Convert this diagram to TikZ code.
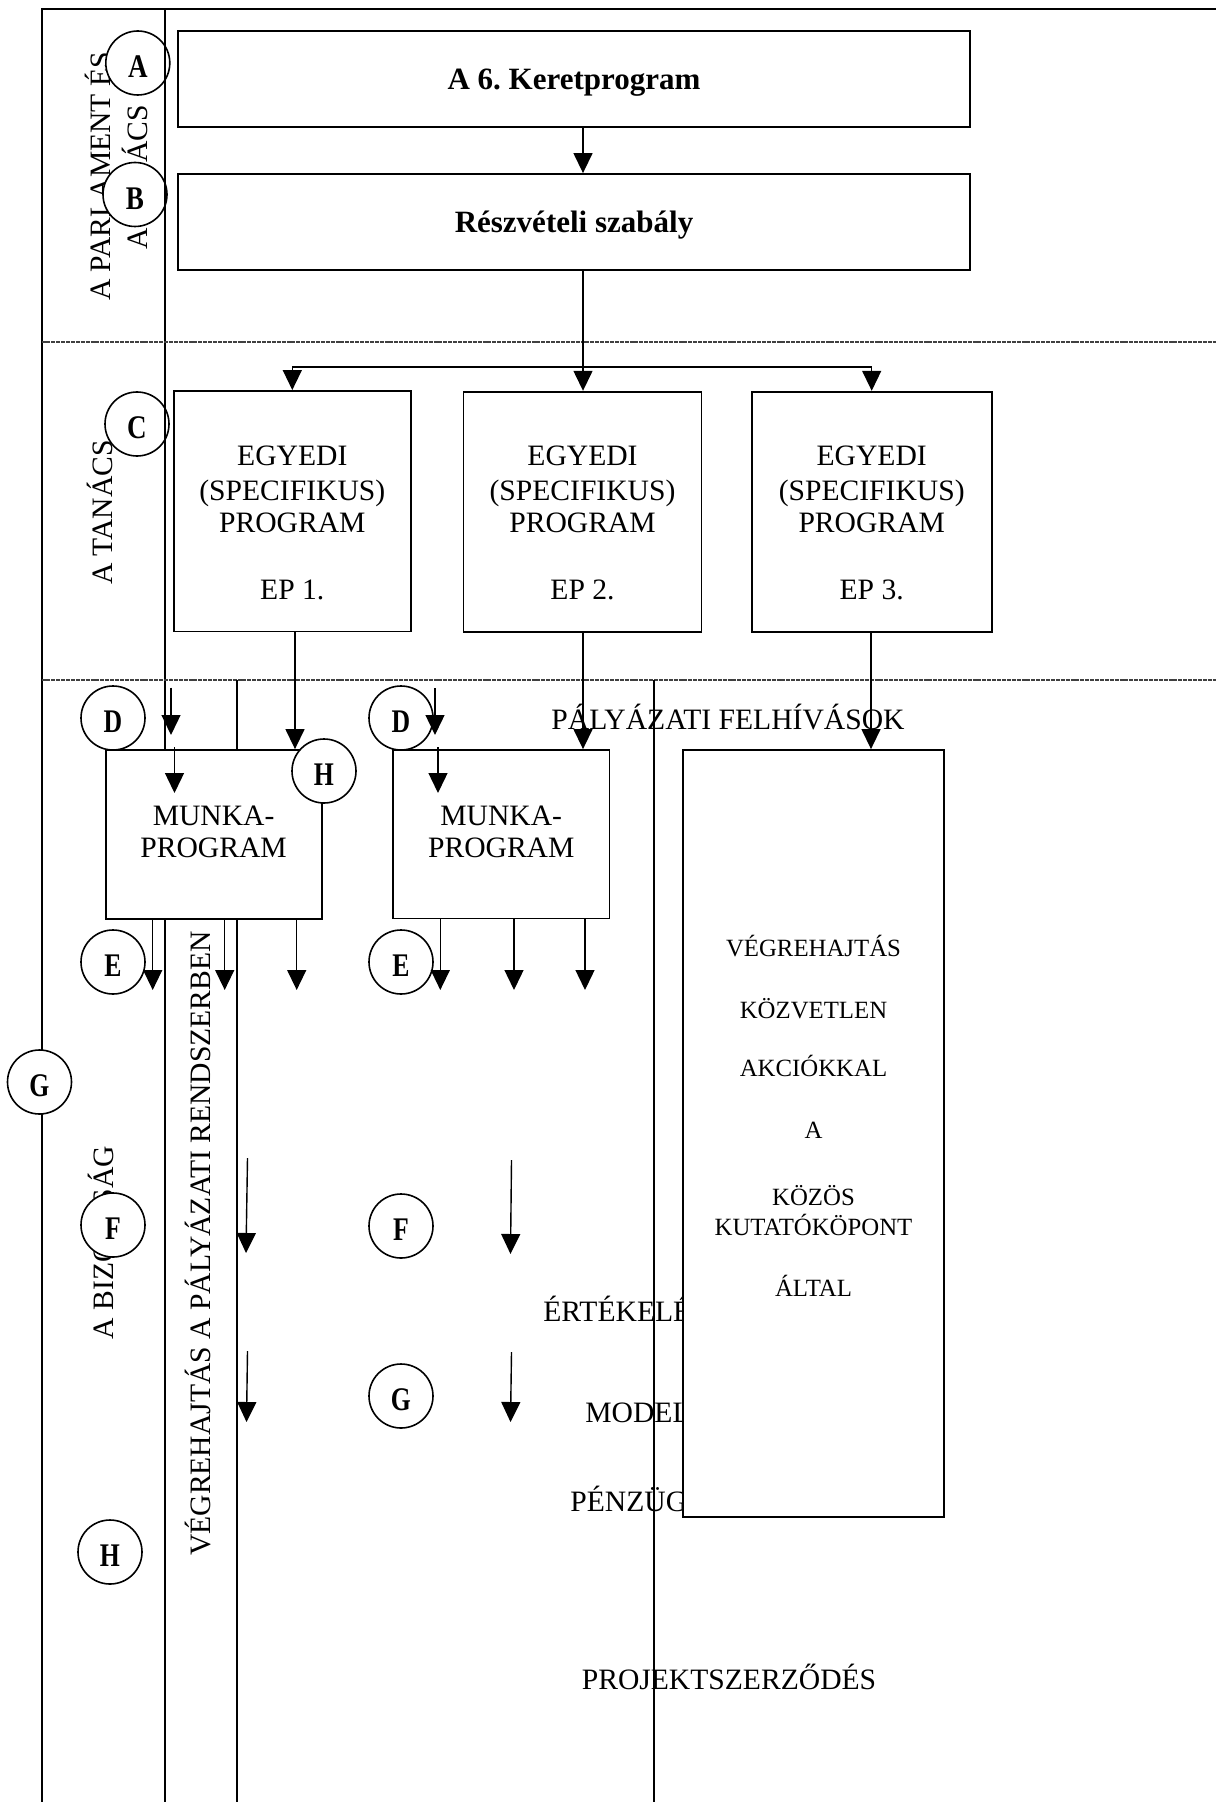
\documentclass[tikz,border=0pt]{standalone}
\usepackage{fontspec}
\setmainfont{Liberation Serif}
\usepackage{graphicx}
\usetikzlibrary{arrows.meta}
\frenchspacing
\begin{document}
\begin{tikzpicture}[x=0.5pt,y=-0.5pt,
  basetxt/.style={inner sep=0pt, text depth=0pt},
  txt/.style={basetxt, font=\fontsize{14.8pt}{17.5pt}\selectfont, text height=9.7pt},
  stxt/.style={basetxt, font=\fontsize{12.4pt}{15pt}\selectfont, text height=8.1pt},
  btxt/.style={font=\bfseries\fontsize{15.5pt}{18pt}\selectfont, text height=10.2pt, text depth=0pt},
  box/.style={draw, line width=0.9pt, fill=white, inner sep=0pt},
  circ/.style={circle, draw, fill=white, line width=0.8pt, minimum size=32pt, inner sep=0pt},
  clet/.style={basetxt, font=\bfseries\fontsize{16.5pt}{18pt}\selectfont, text height=10.8pt},
  arr/.style={-{Triangle[width=9.5pt,length=10pt]}, line width=0.7pt},
  conn/.style={line width=0.7pt},
  frameln/.style={line width=1pt},
  colln/.style={line width=0.8pt},
  sepln/.style={line width=0.85pt, black!75, dash pattern=on 2pt off 0.45pt},
]
\useasboundingbox (0,0) rectangle (1216,1802);

% ---- texts that are partly covered ----
\node[txt, rotate=90] (tPar1) at (101,176.5) {A PARLAMENT ÉS};
\node[txt, rotate=90] (tPar2) at (137.5,177.5) {A TANÁCS};
\node[txt, rotate=90] (tTan) at (103,512.5) {A TANÁCS};
\node[txt, rotate=90] (tBiz) at (103.6,1242.5) {A BIZOTTSÁG};
\node[txt, rotate=90] (tVeg) at (201,1243.5) {VÉGREHAJTÁS A PÁLYÁZATI RENDSZERBEN};
\node[txt] (tPal) at (728,720) {PÁLYÁZATI FELHÍVÁSOK};
\node[txt, anchor=west] (tErt) at (543,1311.7) {ÉRTÉKELÉS};
\node[txt, anchor=west] (tMod) at (585,1413) {MODELL};
\node[txt, anchor=west] (tPen) at (570,1501.7) {PÉNZÜGY};
\node[txt] (tProj) at (729,1680) {PROJEKTSZERZŐDÉS};

% ---- circles A, B, C (under the inner line) ----
\node[circ] (cA) at (137.8,63) {};
\node[clet] (lA) at ([yshift=-2pt]cA.center) {\scalebox{0.82}[1]{A}};
\node[circ] (cB) at (135,194.5) {};
\node[clet] (lB) at ([yshift=-2pt]cB.center) {\scalebox{0.82}[1]{B}};
\node[circ] (cC) at (137,424) {};
\node[clet] (lC) at ([yshift=-2pt]cC.center) {\scalebox{0.82}[1]{C}};

% ---- frame and column lines ----
\coordinate (fTL) at (41.5,9);
\coordinate (fTR) at (1216,9);
\coordinate (fBL) at (41.5,1802);
\draw[frameln] (fBL) -- (fTL) -- (fTR);
\coordinate (iT) at (165,9);
\coordinate (iB) at (165,1802);
\draw[frameln] (iT) -- (iB);
\coordinate (d1L) at (41.5,342);
\coordinate (d1R) at (1216,342);
\coordinate (d2L) at (41.5,680);
\coordinate (d2R) at (1216,680);
\draw[sepln] (d1L) -- (d1R);
\draw[sepln] (d2L) -- (d2R);
\coordinate (k1T) at (237,680);
\coordinate (k1B) at (237,1802);
\coordinate (k2T) at (654,680);
\coordinate (k2B) at (654,1802);
\draw[colln] (k1T) -- (k1B);
\draw[colln] (k2T) -- (k2B);

% ---- boxes ----
\node[box, btxt, minimum width=396pt, minimum height=48pt] (bA) at (574,79) {A 6. Keretprogram};
\node[box, btxt, minimum width=396pt, minimum height=48pt] (bB) at (574,222) {Részvételi szabály};

\node[box, minimum width=118.3pt, minimum height=120.25pt] (ep1) at (292.3,511.2) {};
\node[box, minimum width=119pt, minimum height=120.2pt] (ep2) at (582.5,511.9) {};
\node[box, minimum width=120pt, minimum height=120.2pt] (ep3) at (871.7,511.9) {};
\foreach \bx/\bn in {292.3/1, 582.5/2, 871.7/3}{
  \node[txt] (eg\bn) at (\bx,456) {EGYEDI};
  \node[txt] (sp\bn) at (\bx,490.7) {(SPECIFIKUS)};
  \node[txt] (pr\bn) at (\bx,522.5) {PROGRAM};
  \node[txt] (epn\bn) at (\bx,590) {EP \bn.};
}

\node[box, minimum width=108pt, minimum height=84.5pt] (mp1) at (213.6,834.5) {};
\node[box, minimum width=108.25pt, minimum height=84.25pt] (mp2) at (501.25,834.25) {};
\node[txt] (mk1) at (213.6,815.7) {MUNKA-};
\node[txt] (mg1) at (213.6,848) {PROGRAM};
\node[txt] (mk2) at (501.25,815.7) {MUNKA-};
\node[txt] (mg2) at (501.25,848) {PROGRAM};

\node[box, minimum width=130.5pt, minimum height=383.5pt] (big) at (813.5,1133.5) {};
\node[stxt] (v1) at (813.5,948) {VÉGREHAJTÁS};
\node[stxt] (v2) at (813.5,1010) {KÖZVETLEN};
\node[stxt] (v3) at (813.5,1068) {AKCIÓKKAL};
\node[stxt] (v4) at (813.5,1130) {A};
\node[stxt] (v5) at (813.5,1197) {KÖZÖS};
\node[stxt] (v6) at (813.5,1227) {KUTATÓKÖPONT};
\node[stxt] (v7) at (813.5,1288) {ÁLTAL};

% ---- other circles ----
\foreach \cx/\cy/\cn/\cl in {113/718/D1/D, 324/771/H1/H, 401/718/D2/D, 113/962/E1/E,
  401/962/E2/E, 39.5/1082/G1/G, 113/1225/F1/F, 401/1226/F2/F, 401/1396/G2/G, 110/1552/H2/H}{
  \node[circ] (c\cn) at (\cx,\cy) {};
  \node[clet] (l\cn) at ([yshift=-2pt]c\cn.center) {\scalebox{0.78}[1]{\cl}};
}

% ---- connectors ----
\coordinate (ab) at (583,0);
\draw[arr] (bA.south -| ab) -- (bB.north -| ab);
\coordinate (br) at (583,367);
\draw[conn] (bB.south -| br) -- (br);
\draw[conn] (ep1.north |- br) -- (ep3.north |- br);
\draw[arr] (br) -- (ep2.north -| br);
\draw[arr] (ep1.north |- br) -- (ep1.north);
\draw[arr] (ep3.north |- br) -- (ep3.north);

\coordinate (x1) at (295,0);
\coordinate (x2) at (583,0);
\coordinate (x3) at (871,0);
\draw[arr] (ep1.south -| x1) -- (mp1.north -| x1);
\draw[arr] (ep2.south -| x2) -- (mp2.north -| x2);
\draw[arr] (ep3.south -| x3) -- (big.north -| x3);

% D arrows
\coordinate (da1) at (171,687.5);   \coordinate (da2) at (171,735);
\coordinate (db1) at (174.5,747);   \coordinate (db2) at (174.5,793);
\coordinate (dc1) at (435,688);     \coordinate (dc2) at (435,735);
\coordinate (dd1) at (438,747);     \coordinate (dd2) at (438,793);
\draw[arr] (da1) -- (da2);
\draw[arr] (db1) -- (db2);
\draw[arr] (dc1) -- (dc2);
\draw[arr] (dd1) -- (dd2);

% E arrows
\foreach \ex/\en in {152.7/1, 224.7/2, 296.7/3}{
  \coordinate (et\en) at (\ex,990);
  \draw[arr] (mp1.south -| et\en) -- (et\en);
}
\foreach \ex/\en in {440.3/4, 514/5, 585/6}{
  \coordinate (et\en) at (\ex,990);
  \draw[arr] (mp2.south -| et\en) -- (et\en);
}

% F and G arrows
\coordinate (fa1) at (247.5,1158);  \coordinate (fa2) at (246,1253);
\coordinate (fb1) at (511.5,1160);  \coordinate (fb2) at (510.5,1254);
\coordinate (ga1) at (247.5,1351);  \coordinate (ga2) at (246.5,1422);
\coordinate (gb1) at (511.5,1352);  \coordinate (gb2) at (510.5,1422);
\draw[arr] (fa1) -- (fa2);
\draw[arr] (fb1) -- (fb2);
\draw[arr] (ga1) -- (ga2);
\draw[arr] (gb1) -- (gb2);
\end{tikzpicture}
\end{document}
